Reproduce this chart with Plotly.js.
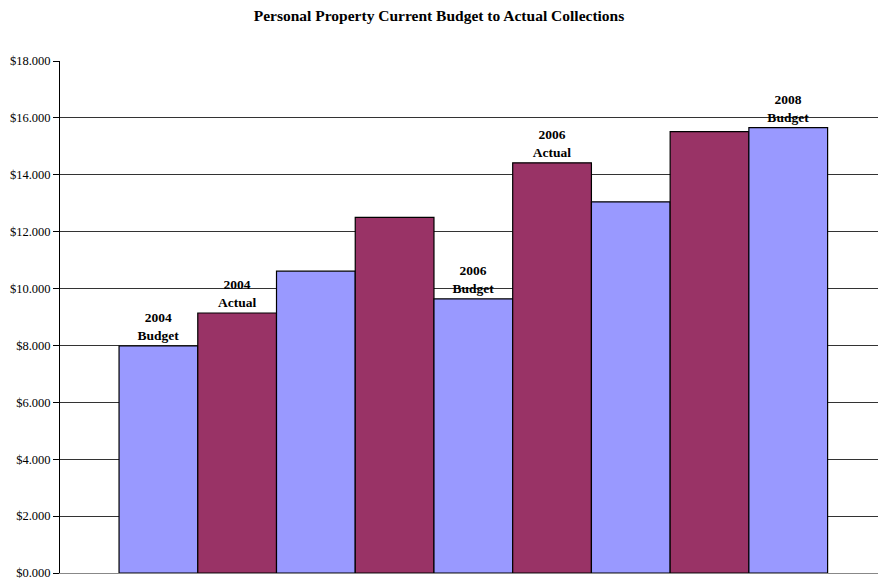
<!DOCTYPE html>
<html>
<head>
<meta charset="utf-8">
<script src="https://cdn.plot.ly/plotly-3.0.1.min.js"></script>
<style>html,body{margin:0;padding:0;background:#fff;}#chart{width:878px;height:581px;}</style>
</head>
<body>
<div id="chart"></div>
<script>
const categories = ["2004 Budget","2004 Actual","2005 Budget","2005 Actual","2006 Budget","2006 Actual","2007 Budget","2007 Actual","2008 Budget"];
const kinds = ["Budget","Actual","Budget","Actual","Budget","Actual","Budget","Actual","Budget"];
const values = [7.98, 9.14, 10.61, 12.50, 9.64, 14.42, 13.05, 15.52, 15.66];
const barLabels = ["2004<br>Budget","2004<br>Actual","","","2006<br>Budget","2006<br>Actual","","","2008<br>Budget"];
const tickVals = [0,2,4,6,8,10,12,14,16,18];
const tickText = ["$0.000","$2.000","$4.000","$6.000","$8.000","$10.000","$12.000","$14.000","$16.000","$18.000"];

const colorMap = {Budget:"#9999FF", Actual:"#993366"};
const serif = "Liberation Serif, Times New Roman, serif";

const trace = {
  type: "bar",
  x: categories,
  y: values,
  text: barLabels,
  textposition: "outside",
  cliponaxis: false,
  textfont: {family: serif, size: 13.5, color: "#000", weight: "bold"},
  marker: {color: kinds.map(k => colorMap[k]), line: {color: "#000", width: 1.2}},
  hoverinfo: "x+y"
};

const layout = {
  width: 878, height: 581,
  margin: {l: 60, r: 0, t: 61, b: 8},
  paper_bgcolor: "#fff", plot_bgcolor: "#fff",
  bargap: 0,
  showlegend: false,
  font: {family: serif, color: "#000"},
  title: {
    text: "<b>Personal Property Current Budget to Actual Collections</b>",
    font: {family: serif, size: 15.5, color: "#000"},
    x: 0.5, xanchor: "center", y: 0.974, yanchor: "middle"
  },
  xaxis: {
    type: "category",
    range: [-1.25, 9.14],
    showticklabels: false,
    ticks: "",
    showgrid: false,
    zeroline: false,
    showline: true,
    linecolor: "#888",
    linewidth: 1
  },
  yaxis: {
    range: [0, 18],
    tickvals: tickVals,
    ticktext: tickText,
    tickfont: {family: serif, size: 12.5, color: "#000"},
    ticklabeloverflow: "allow",
    ticks: "outside",
    ticklen: 6,
    tickcolor: "#000",
    showgrid: true,
    gridcolor: "#333",
    gridwidth: 1,
    zeroline: false,
    showline: true,
    linecolor: "#000",
    linewidth: 1
  }
};

Plotly.newPlot("chart", [trace], layout, {displayModeBar: false, staticPlot: true});
</script>
</body>
</html>
